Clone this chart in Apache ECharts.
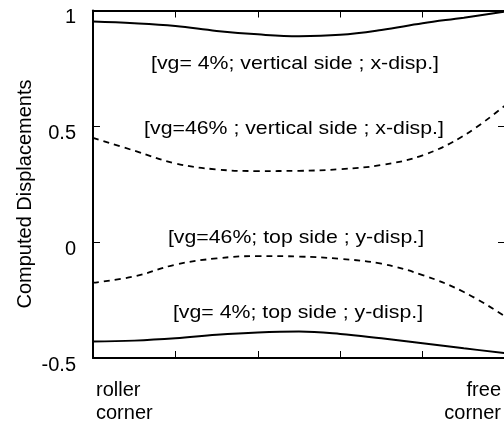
<!DOCTYPE html>
<html>
<head>
<meta charset="utf-8">
<script src="https://cdn.jsdelivr.net/npm/echarts@6/dist/echarts.min.js"></script>
<style>
html,body{margin:0;padding:0;background:#fff;}
#chart{width:504px;height:422px;}
</style>
</head>
<body>
<div id="chart"></div>
<script>
// Positions along the side (roller corner = 0, free corner = 5)
const xPositions = [0, 0.5, 1, 1.5, 2, 2.5, 3, 3.5, 4, 4.5, 5];
const xTickLabels = ['roller\ncorner', '', '', '', '', 'free\ncorner'];
const yTickValues = [-0.5, 0, 0.5, 1];
const yAxisTitle = 'Computed Displacements';

const seriesNames = [
  '[vg= 4%; vertical side ; x-disp.]',
  '[vg=46% ; vertical side ; x-disp.]',
  '[vg=46%; top side ; y-disp.]',
  '[vg= 4%; top side ; y-disp.]'
];
const vg4Vertical = [0.952, 0.945, 0.933, 0.912, 0.897, 0.889, 0.895, 0.916, 0.945, 0.969, 0.995];
const vg46Vertical = [0.45, 0.395, 0.34, 0.314, 0.307, 0.308, 0.315, 0.333, 0.375, 0.46, 0.59];
const vg46Top = [-0.175, -0.148, -0.097, -0.07, -0.06, -0.062, -0.072, -0.093, -0.142, -0.215, -0.32];
const vg4Top = [-0.429, -0.425, -0.415, -0.4, -0.39, -0.386, -0.396, -0.415, -0.436, -0.458, -0.479];

const FONT = '"Liberation Sans", Arial, Helvetica, sans-serif';
const chart = echarts.init(document.getElementById('chart'), null, {renderer: 'canvas'});

function pairs(ys) { return xPositions.map((x, i) => [x, ys[i]]); }

const axisLineStyle = {color: '#000', width: 2};
const tickStyle = {show: true, inside: true, length: 7, lineStyle: {color: '#000', width: 1}};
const mkSeries = (name, ys, dashed) => ({
  name: name,
  type: 'line',
  data: pairs(ys),
  smooth: 0.4,
  showSymbol: false,
  symbol: 'none',
  lineStyle: dashed ? {color: '#000', width: 1.8, type: [6, 5]} : {color: '#000', width: 2}
});
const mkLabel = (text, x, y) => ({
  type: 'text', x: x, y: y, scaleX: 1.12, scaleY: 1,
  style: {text: text, fill: '#000', font: '19px ' + FONT, textAlign: 'center', textVerticalAlign: 'middle'}
});

const option = {
  backgroundColor: '#fff',
  animation: false,
  grid: {left: 93, right: -1, top: 10.5, bottom: 64, containLabel: false, outerBoundsMode: 'none'},
  xAxis: [
    {
      type: 'value', min: 0, max: 5, interval: 1, position: 'bottom',
      axisLine: {show: true, onZero: false, lineStyle: axisLineStyle},
      axisTick: tickStyle,
      splitLine: {show: false},
      axisLabel: {
        formatter: v => xTickLabels[Math.round(v)] || '',
        color: '#000', fontFamily: FONT, fontSize: 20, lineHeight: 23,
        margin: 21, verticalAlign: 'top', padding: [0, 4, 0, 3],
        alignMinLabel: 'left', alignMaxLabel: 'right'
      }
    },
    {
      type: 'value', min: 0, max: 5, interval: 1, position: 'top',
      axisLine: {show: true, onZero: false, lineStyle: axisLineStyle},
      axisTick: tickStyle,
      splitLine: {show: false},
      axisLabel: {show: false}
    }
  ],
  yAxis: [
    {
      type: 'value', min: -0.5, max: 1, interval: 0.5, position: 'left',
      axisLine: {show: true, onZero: false, lineStyle: axisLineStyle},
      axisTick: tickStyle,
      splitLine: {show: false},
      axisLabel: {
        formatter: v => {
          const t = yTickValues.find(y => Math.abs(y - v) < 1e-9);
          return t === undefined ? '' : '{t|' + String(t) + '}';
        },
        rich: {t: {color: '#000', fontFamily: FONT, fontSize: 20, padding: [14, 0, 0, 0]}},
        color: '#000', fontFamily: FONT, fontSize: 20, margin: 17
      }
    },
    {
      type: 'value', min: -0.5, max: 1, interval: 0.5, position: 'right',
      axisLine: {show: true, onZero: false, lineStyle: axisLineStyle},
      axisTick: tickStyle,
      splitLine: {show: false},
      axisLabel: {show: false}
    }
  ],
  series: [
    mkSeries(seriesNames[0], vg4Vertical, false),
    mkSeries(seriesNames[1], vg46Vertical, true),
    mkSeries(seriesNames[2], vg46Top, true),
    mkSeries(seriesNames[3], vg4Top, false)
  ],
  graphic: [
    {
      type: 'text', x: 25, y: 194, rotation: Math.PI / 2,
      style: {text: yAxisTitle, fill: '#000', font: '20px ' + FONT, textAlign: 'center', textVerticalAlign: 'middle'}
    },
    mkLabel(seriesNames[0], 295, 64),
    mkLabel(seriesNames[1], 294, 129),
    mkLabel(seriesNames[2], 296, 238),
    mkLabel(seriesNames[3], 298, 313)
  ]
};
chart.setOption(option);
</script>
</body>
</html>
